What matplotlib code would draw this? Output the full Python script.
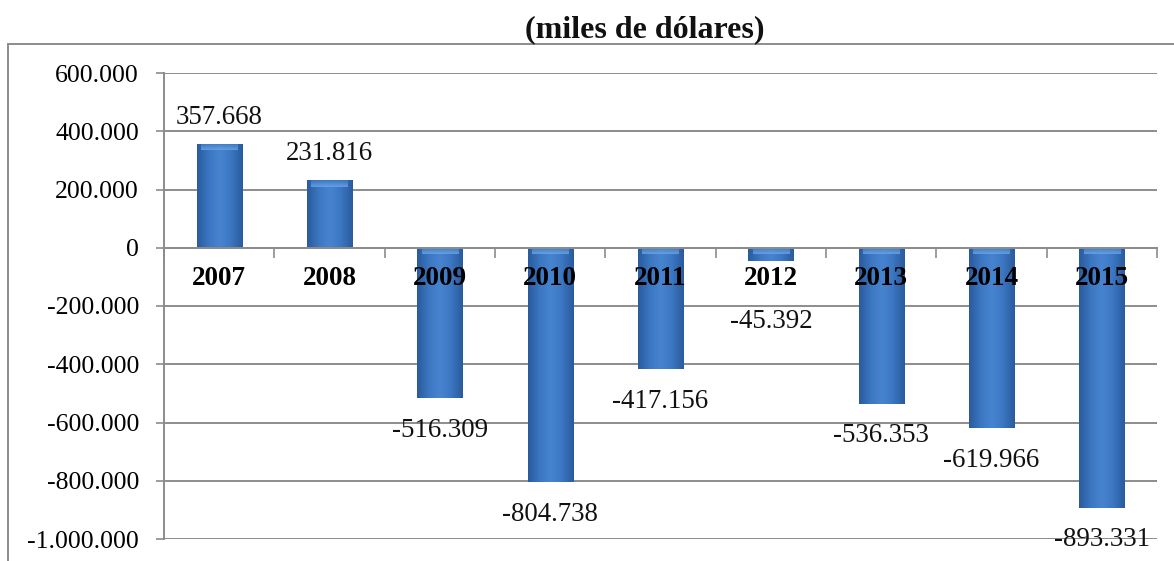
import matplotlib
matplotlib.use("Agg")
import matplotlib.pyplot as plt
import numpy as np
from matplotlib.colors import LinearSegmentedColormap
from matplotlib.lines import Line2D

# ---- data ---------------------------------------------------------------
years = ["2007", "2008", "2009", "2010", "2011", "2012", "2013", "2014", "2015"]
values = [357668, 231816, -516309, -804738, -417156, -45392, -536353, -619966, -893331]
y_ticks = [-1000000, -800000, -600000, -400000, -200000, 0, 200000, 400000, 600000]
title = "(miles de dólares)"

FONT = "Liberation Serif"
BAR_W = 0.41
AX_PX = (539 - 73)          # axes height in pixels
PT_PER_UNIT = AX_PX * 0.72 / (y_ticks[-1] - y_ticks[0])


def fmt(v):
    # Spanish style thousands separator
    return f"{v:,.0f}".replace(",", ".")


fig = plt.figure(figsize=(11.74, 5.61), dpi=100)
ax = fig.add_axes([164 / 1174, 1 - 539 / 561, (1157 - 164) / 1174, AX_PX / 561])

x = np.arange(len(years))
bars = ax.bar(x, values, width=BAR_W, color="#3c76c2", edgecolor="none", zorder=2)

# cylinder-like shading on each bar
shade = LinearSegmentedColormap.from_list(
    "shade", ["#2a5b9e", "#3b76c1", "#4784d0", "#3b76c1", "#2a5b9e"])
grad = np.linspace(0, 1, 64).reshape(1, -1)
cap_cmap = LinearSegmentedColormap.from_list("cap", ["#3b76c1", "#6fa9ea"])
cap_grad = np.linspace(0, 1, 32).reshape(-1, 1)
for b, v in zip(bars, values):
    x0 = b.get_x()
    x1 = x0 + b.get_width()
    y0, y1 = sorted([0, v])
    im = ax.imshow(grad, cmap=shade, extent=[x0, x1, y0, y1],
                   aspect="auto", zorder=2.1, interpolation="bicubic")
    im.set_clip_path(b)
    # lighter bevel at the upper end of every bar
    cap = min(22000, y1 - y0)
    imc = ax.imshow(cap_grad, cmap=cap_cmap, extent=[x0 + 0.04, x1 - 0.04, y1 - cap, y1],
                    aspect="auto", zorder=2.2, interpolation="bicubic", alpha=0.8)
    imc.set_clip_path(b)

# value labels (negative ones kept clear of the year labels)
for xi, v in zip(x, values):
    if v > 0:
        ax.annotate(fmt(v), (xi, v), xytext=(0, 10), textcoords="offset points",
                    ha="center", va="bottom", fontsize=19.4, family=FONT,
                    color="#111111", zorder=5)
    else:
        depth = -v * PT_PER_UNIT
        off = -max(14, 44 - depth)
        ax.annotate(fmt(v), (xi, v), xytext=(0, off), textcoords="offset points",
                    ha="center", va="top", fontsize=19.4, family=FONT,
                    color="#111111", zorder=5)

# category labels sitting just under the zero line, over the bars
for xi, yr in zip(x, years):
    ax.annotate(yr, (xi, 0), xytext=(0, -22), textcoords="offset points",
                ha="center", va="center", fontsize=19.5, fontweight="bold",
                family=FONT, color="#000000", zorder=6)

ax.set_xlim(-0.5, len(years) - 0.5)
ax.set_ylim(y_ticks[0], y_ticks[-1])
ax.set_yticks(y_ticks)
ax.set_yticklabels([fmt(t) for t in y_ticks], family=FONT, fontsize=18.5)
ax.tick_params(axis="y", length=6, width=1.2, color="#8c8c8c", pad=12)
ax.yaxis.grid(True, color="#8c8c8c", linewidth=1.4)
ax.set_axisbelow(True)

# x axis along zero with tick marks at category boundaries
ax.spines["bottom"].set_position(("data", 0))
ax.spines["bottom"].set_color("#8c8c8c")
ax.spines["bottom"].set_linewidth(1.4)
ax.set_xticks([])
ax.set_xticks(np.arange(-0.5, len(years), 1.0), minor=True)
ax.tick_params(axis="x", which="minor", direction="out", length=7,
               width=1.2, color="#8c8c8c", labelbottom=False)
ax.spines["left"].set_color("#8c8c8c")
ax.spines["left"].set_linewidth(1.4)
for s in ("top", "right"):
    ax.spines[s].set_visible(False)

# outer chart frame (left and top edges visible)
fig.add_artist(Line2D([8 / 1174, 8 / 1174], [0, 1 - 44 / 561],
                      transform=fig.transFigure, color="#8c8c8c", lw=1.4))
fig.add_artist(Line2D([8 / 1174, 1], [1 - 44 / 561, 1 - 44 / 561],
                      transform=fig.transFigure, color="#8c8c8c", lw=1.4))

fig.text(645 / 1174, 1 - 30 / 561, title, ha="center", va="center",
         fontsize=23, fontweight="bold", family=FONT, color="#111111")

fig.savefig("out.png", dpi=100)
